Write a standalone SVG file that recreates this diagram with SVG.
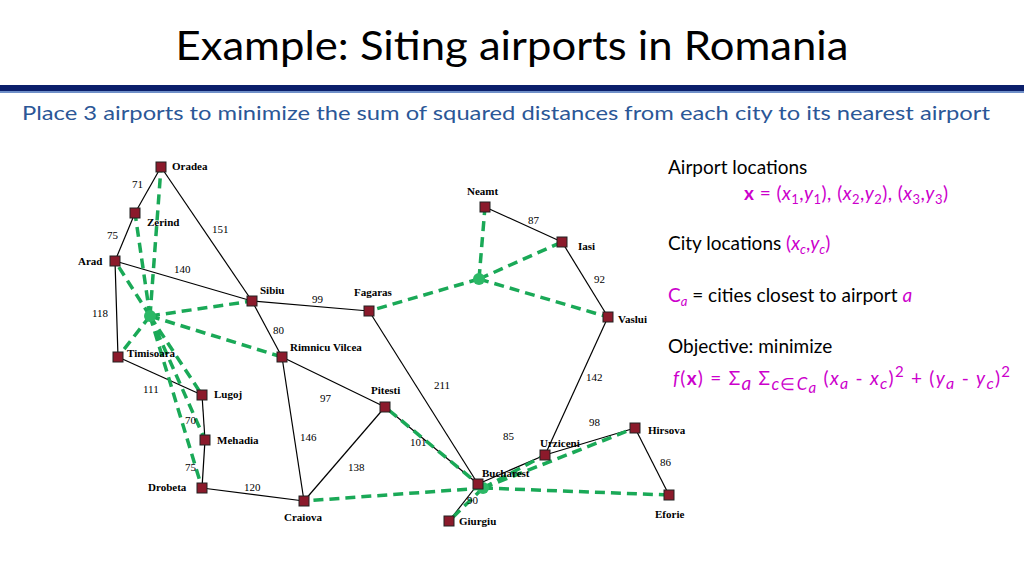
<svg xmlns="http://www.w3.org/2000/svg" width="1024" height="576" viewBox="0 0 1024 576">
<style>
.e{stroke:#000;stroke-width:1.2;fill:none}
.g{stroke:#1aa957;stroke-width:3.5;stroke-dasharray:10,6;fill:none}
.c{fill:#8b1a2b;stroke:#222;stroke-width:1}
.n{font-family:"Liberation Serif",serif;font-weight:bold;font-size:11px}
.d{font-family:"Liberation Serif",serif;font-size:11px}
.t{font-family:Lato,"Open Sans",sans-serif;font-size:19px;fill:#000}
.m{fill:#c0c}
</style>
<rect width="1024" height="576" fill="#fff"/>
<text x="512" y="60" text-anchor="middle" font-family="Lato,'Open Sans',sans-serif" font-size="40" textLength="673" lengthAdjust="spacingAndGlyphs">Example: Siting airports in Romania</text>
<rect x="0" y="85" width="1024" height="6" fill="#0b1f6b"/>
<rect x="0" y="91" width="1024" height="2" fill="#6f8fc8"/>
<text x="22" y="120" font-family="Lato,'Open Sans',sans-serif" font-size="20" fill="#2b5797" textLength="968" lengthAdjust="spacingAndGlyphs">Place 3 airports to minimize the sum of squared distances from each city to its nearest airport</text>
<g id="connectors">
<g class="e">
<line x1="161" y1="167" x2="135" y2="213"/><line x1="135" y1="213" x2="115" y2="261"/>
<line x1="115" y1="261" x2="252" y2="301"/><line x1="161" y1="167" x2="252" y2="301"/>
<line x1="115" y1="261" x2="118" y2="357"/><line x1="118" y1="357" x2="202" y2="395"/>
<line x1="202" y1="395" x2="205" y2="440"/><line x1="205" y1="440" x2="202" y2="488"/>
<line x1="202" y1="488" x2="304" y2="501"/><line x1="252" y1="301" x2="369" y2="311"/>
<line x1="252" y1="301" x2="282" y2="357"/><line x1="282" y1="357" x2="385" y2="407"/>
<line x1="282" y1="357" x2="304" y2="501"/><line x1="385" y1="407" x2="304" y2="501"/>
<line x1="369" y1="311" x2="478" y2="484"/><line x1="385" y1="407" x2="478" y2="484"/>
<line x1="478" y1="484" x2="449" y2="521"/><line x1="478" y1="484" x2="545" y2="455"/>
<line x1="545" y1="455" x2="635" y2="428"/><line x1="635" y1="428" x2="669" y2="495"/>
<line x1="545" y1="455" x2="608" y2="317"/><line x1="608" y1="317" x2="562" y2="242"/>
<line x1="562" y1="242" x2="485" y2="207"/>
</g>
<g class="g">
<path d="M150 316L161 167M150 316L135 213M150 316L115 261M150 316L118 357M150 316L202 395M150 316L205 440M150 316L202 488M150 316L252 301M150 316L282 357"/>
<path d="M479 279L485 207M479 279L562 242M479 279L608 317M479 279L369 311"/>
<path d="M483 488L385 407M483 488L304 501M483 488L449 521M483 488L545 455M483 488L635 428M483 488L669 495"/>
</g>
<g class="d">
<text x="132" y="188">71</text><text x="107" y="239">75</text><text x="174" y="273">140</text><text x="212" y="233">151</text>
<text x="92" y="317">118</text><text x="143" y="393">111</text><text x="185" y="424">70</text><text x="185" y="471">75</text>
<text x="244" y="491">120</text><text x="312" y="303">99</text><text x="273" y="334">80</text><text x="320" y="402">97</text>
<text x="300" y="441">146</text><text x="348" y="471">138</text><text x="434" y="389">211</text><text x="410" y="446">101</text>
<text x="467" y="504">90</text><text x="503" y="440">85</text><text x="589" y="426">98</text><text x="660" y="466">86</text>
<text x="586" y="381">142</text><text x="594" y="283">92</text><text x="528" y="224">87</text>
</g>
</g>
<g id="airports" fill="#2cb866">
<circle id="a1" cx="150" cy="316" r="6"/><circle id="a2" cx="479" cy="279" r="6"/><circle id="a3" cx="483" cy="488" r="6"/>
</g>
<g id="cities">
<g id="oradea"><rect class="c" x="156" y="162" width="10" height="10"/><text class="n" x="172" y="170">Oradea</text></g>
<g id="zerind"><rect class="c" x="130" y="208" width="10" height="10"/><text class="n" x="147" y="226">Zerind</text></g>
<g id="arad"><rect class="c" x="110" y="256" width="10" height="10"/><text class="n" x="78" y="265">Arad</text></g>
<g id="timisoara"><rect class="c" x="113" y="352" width="10" height="10"/><text class="n" x="127" y="357">Timisoara</text></g>
<g id="lugoj"><rect class="c" x="197" y="390" width="10" height="10"/><text class="n" x="214" y="398">Lugoj</text></g>
<g id="mehadia"><rect class="c" x="200" y="435" width="10" height="10"/><text class="n" x="217" y="444">Mehadia</text></g>
<g id="drobeta"><rect class="c" x="197" y="483" width="10" height="10"/><text class="n" x="148" y="491">Drobeta</text></g>
<g id="sibiu"><rect class="c" x="247" y="296" width="10" height="10"/><text class="n" x="260" y="294">Sibiu</text></g>
<g id="rimnicu"><rect class="c" x="277" y="352" width="10" height="10"/><text class="n" x="290" y="351">Rimnicu Vilcea</text></g>
<g id="fagaras"><rect class="c" x="364" y="306" width="10" height="10"/><text class="n" x="354" y="296">Fagaras</text></g>
<g id="pitesti"><rect class="c" x="380" y="402" width="10" height="10"/><text class="n" x="371" y="394">Pitesti</text></g>
<g id="craiova"><rect class="c" x="299" y="496" width="10" height="10"/><text class="n" x="284" y="521">Craiova</text></g>
<g id="bucharest"><rect class="c" x="473" y="479" width="10" height="10"/><text class="n" x="482" y="477">Bucharest</text></g>
<g id="giurgiu"><rect class="c" x="444" y="516" width="10" height="10"/><text class="n" x="459" y="525">Giurgiu</text></g>
<g id="urziceni"><rect class="c" x="540" y="450" width="10" height="10"/><text class="n" x="540" y="447">Urziceni</text></g>
<g id="hirsova"><rect class="c" x="630" y="423" width="10" height="10"/><text class="n" x="648" y="434">Hirsova</text></g>
<g id="eforie"><rect class="c" x="664" y="490" width="10" height="10"/><text class="n" x="655" y="518">Eforie</text></g>
<g id="vaslui"><rect class="c" x="603" y="312" width="10" height="10"/><text class="n" x="618" y="323">Vaslui</text></g>
<g id="iasi"><rect class="c" x="557" y="237" width="10" height="10"/><text class="n" x="578" y="250">Iasi</text></g>
<g id="neamt"><rect class="c" x="480" y="202" width="10" height="10"/><text class="n" x="467" y="195">Neamt</text></g>
</g>
<g id="legend">
<text class="t" x="668" y="174">Airport locations</text>
<text class="t m" x="744" y="200" textLength="204"><tspan font-weight="bold">x</tspan> = (<tspan font-style="italic">x</tspan><tspan font-size="13" dy="4">1</tspan><tspan dy="-4">,</tspan><tspan font-style="italic">y</tspan><tspan font-size="13" dy="4">1</tspan><tspan dy="-4">), (</tspan><tspan font-style="italic">x</tspan><tspan font-size="13" dy="4">2</tspan><tspan dy="-4">,</tspan><tspan font-style="italic">y</tspan><tspan font-size="13" dy="4">2</tspan><tspan dy="-4">), (</tspan><tspan font-style="italic">x</tspan><tspan font-size="13" dy="4">3</tspan><tspan dy="-4">,</tspan><tspan font-style="italic">y</tspan><tspan font-size="13" dy="4">3</tspan><tspan dy="-4">)</tspan></text>
<text class="t" x="668" y="250">City locations <tspan class="m">(<tspan font-style="italic">x</tspan><tspan font-size="13" dy="4" font-style="italic">c</tspan><tspan dy="-4">,</tspan><tspan font-style="italic">y</tspan><tspan font-size="13" dy="4" font-style="italic">c</tspan><tspan dy="-4">)</tspan></tspan></text>
<text class="t" x="668" y="302"><tspan class="m">C</tspan><tspan class="m" font-size="13" dy="4" font-style="italic">a</tspan><tspan dy="-4"> = cities closest to airport </tspan><tspan class="m" font-style="italic">a</tspan></text>
<text class="t" x="668" y="353">Objective: minimize</text>
<text class="t m" x="673" y="385" font-size="22" textLength="337"><tspan font-style="italic">f</tspan>(<tspan font-weight="bold">x</tspan>) = Σ<tspan font-style="italic" dy="5">a</tspan><tspan dy="-5"> Σ</tspan><tspan font-size="17" dy="5" font-style="italic">c</tspan><tspan font-size="17">∈</tspan><tspan font-size="17" font-style="italic">C</tspan><tspan font-size="15" font-style="italic" dy="3">a</tspan><tspan dy="-8"> (</tspan><tspan font-style="italic">x</tspan><tspan font-style="italic" font-size="16" dy="4">a</tspan><tspan dy="-4"> - </tspan><tspan font-style="italic">x</tspan><tspan font-style="italic" font-size="16" dy="4">c</tspan><tspan dy="-4">)</tspan><tspan font-size="15" dy="-8">2</tspan><tspan dy="8"> + (</tspan><tspan font-style="italic">y</tspan><tspan font-style="italic" font-size="16" dy="4">a</tspan><tspan dy="-4"> - </tspan><tspan font-style="italic">y</tspan><tspan font-style="italic" font-size="16" dy="4">c</tspan><tspan dy="-4">)</tspan><tspan font-size="15" dy="-8">2</tspan></text>
</g>
</svg>
